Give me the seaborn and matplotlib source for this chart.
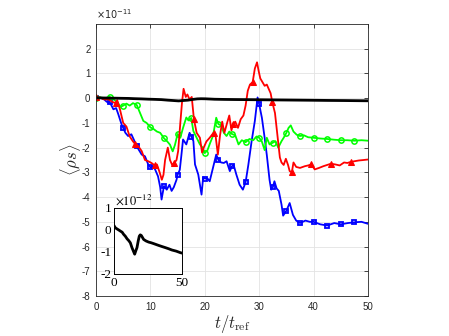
import numpy as np
import matplotlib
matplotlib.use("Agg")
import matplotlib.pyplot as plt
import seaborn as sns

# values (main axis in units of 1e-11, inset in 1e-12)
red_t = [0, 0.8, 1.5, 2.3, 3.0, 3.6, 3.9, 4.4, 5.0, 5.6, 6.2, 6.8, 7.2, 7.8, 8.4, 9.0, 9.6, 10.2,
         10.8, 11.2, 11.7, 12.1, 12.4, 12.7, 13.2, 13.6, 14.0, 14.4, 14.8, 15.1, 15.5, 15.8, 16.1,
         16.5, 16.8, 17.2, 17.6, 18.0, 18.5, 19.1, 19.5, 19.8, 20.3, 20.9, 21.6, 22.0, 22.4, 22.8,
         23.2, 23.6, 24.1, 24.5, 24.9, 25.2, 25.6, 26.1, 26.6, 27.1, 27.5, 27.9, 28.3, 28.8, 29.2,
         29.6, 29.9, 30.2, 30.6, 31.0, 31.4, 31.8, 32.1, 32.4, 32.9, 33.3, 33.8, 34.1, 34.5, 34.9,
         35.3, 35.6, 36.0, 36.3, 36.8, 37.5, 38.4, 39.0, 39.6, 40.2, 41.0, 41.8, 42.5, 43.2, 44.0,
         44.8, 45.6, 46.2, 46.8, 47.5, 48.3, 49.2, 50.0]
red_v = [0.05, 0.02, -0.05, -0.05, -0.15, -0.2, -0.08, -0.45, -1.0, -1.15, -1.55, -1.75, -1.85,
         -1.95, -2.14, -2.5, -2.55, -2.62, -2.72, -2.68, -3.0, -3.3, -3.1, -2.5, -2.0, -2.5, -2.7,
         -2.62, -2.5, -2.14, -1.0, -0.2, 0.38, 0.05, 0.15, -0.05, 0.05, -0.85, -1.4, -1.6, -2.2,
         -2.0, -1.75, -1.6, -1.4, -1.55, -2.28, -1.5, -0.95, -1.4, -1.0, -0.7, -1.3, -1.05, -0.95,
         -1.2, -0.85, -0.7, -0.3, 0.3, 0.55, 0.65, 1.2, 1.45, 1.1, 0.8, 0.65, 0.5, 0.55, 0.35, 0.2,
         -0.15, -0.6, -1.4, -2.4, -2.6, -2.7, -2.45, -2.7, -2.95, -3.0, -2.6, -2.78, -2.82, -2.75,
         -2.72, -2.68, -2.88, -2.82, -2.75, -2.7, -2.65, -2.68, -2.72, -2.6, -2.62, -2.58, -2.55,
         -2.52, -2.5, -2.48]
red_marks = [0, 3.6, 7.2, 10.8, 14.4, 18.0, 21.6, 25.2, 28.8, 32.4, 36.0, 39.6, 43.2, 46.8]

green_t = [0, 0.8, 1.6, 2.5, 3.2, 3.9, 4.5, 5.0, 5.6, 6.2, 6.8, 7.5, 8.1, 8.7, 9.3, 10.0, 10.6,
           11.2, 11.8, 12.5, 13.1, 13.6, 14.1, 14.5, 15.0, 15.5, 16.0, 16.6, 17.0, 17.5, 17.9,
           18.5, 19.1, 19.6, 20.0, 20.5, 21.0, 21.5, 22.1, 22.5, 23.0, 23.5, 24.0, 24.5, 25.0,
           25.6, 26.2, 26.8, 27.5, 28.2, 28.9, 29.5, 30.0, 30.5, 31.0, 31.4, 31.9, 32.5, 33.0,
           33.5, 34.1, 34.5, 35.0, 35.4, 35.8, 36.3, 36.9, 37.5, 38.2, 39.0, 40.0, 41.2, 42.5,
           43.8, 45.0, 46.2, 47.5, 48.8, 50.0]
green_v = [0.0, 0.03, 0.0, 0.05, -0.05, -0.15, -0.35, -0.3, -0.22, -0.3, -0.2, -0.28, -0.6, -0.92,
           -1.0, -1.18, -1.25, -1.35, -1.4, -1.62, -1.75, -1.88, -2.15, -1.9, -1.45, -1.6, -1.2,
           -0.78, -0.9, -0.8, -1.33, -1.6, -1.87, -2.0, -2.22, -2.1, -1.8, -1.53, -0.79, -1.05,
           -1.1, -1.4, -1.53, -1.35, -1.45, -1.5, -1.87, -1.7, -1.78, -1.65, -1.7, -1.55, -1.6,
           -1.76, -2.1, -1.6, -1.87, -1.8, -1.74, -2.0, -1.74, -1.6, -1.4, -1.2, -1.1, -1.35,
           -1.48, -1.53, -1.5, -1.58, -1.6, -1.63, -1.65, -1.68, -1.7, -1.7, -1.72, -1.7, -1.72]
green_marks = [0, 2.5, 5.0, 7.5, 10.0, 12.5, 15.0, 17.5, 20.0, 22.5, 25.0, 27.5, 30.0, 32.5,
               35.0, 37.5, 40.0, 42.5, 45.0, 47.5]

blue_t = [0, 0.8, 1.5, 2.0, 2.5, 3.2, 3.7, 4.1, 4.7, 5.0, 5.4, 5.9, 6.5, 7.0, 7.5, 7.9, 8.4, 9.0,
          9.6, 10.0, 10.5, 10.9, 11.4, 11.8, 12.05, 12.5, 13.0, 13.5, 13.9, 14.3, 14.8, 15.0,
          15.4, 15.7, 16.0, 16.6, 17.2, 17.5, 17.9, 18.2, 18.8, 19.4, 19.7, 20.0, 20.5, 20.9,
          21.5, 22.1, 22.5, 23.0, 23.5, 24.0, 24.6, 25.0, 25.3, 25.8, 26.4, 27.0, 27.5, 28.0,
          28.6, 29.2, 29.7, 30.0, 30.5, 31.0, 31.4, 31.9, 32.2, 32.5, 32.8, 33.2, 33.6, 34.1,
          34.4, 35.0, 35.6, 36.2, 36.8, 37.5, 38.5, 39.3, 40.0, 41.2, 42.5, 43.8, 45.0, 46.3,
          47.5, 48.8, 50.0]
blue_v = [0.0, 0.02, -0.05, -0.15, -0.15, -0.45, -0.4, -0.65, -1.06, -1.2, -1.4, -1.53, -1.46,
          -1.7, -1.95, -2.1, -2.28, -2.35, -2.68, -2.8, -2.75, -2.9, -3.16, -3.6, -4.1, -3.55,
          -3.7, -3.5, -3.75, -3.6, -3.3, -3.1, -2.9, -2.3, -1.67, -1.87, -1.4, -1.55, -1.73,
          -2.68, -3.09, -3.9, -3.2, -3.25, -3.25, -3.36, -2.82, -2.28, -2.5, -2.6, -2.62, -2.55,
          -2.95, -2.75, -2.7, -3.09, -3.5, -3.7, -3.4, -2.7, -1.75, -0.92, 0.03, -0.25, -0.8,
          -1.6, -2.3, -3.3, -3.7, -3.6, -3.36, -3.65, -3.75, -4.3, -4.75, -4.55, -4.24, -4.72,
          -4.95, -5.05, -4.95, -5.0, -5.0, -5.1, -5.15, -5.05, -5.1, -5.05, -5.02, -5.0, -5.08]
blue_marks = [0, 2.5, 5.0, 7.5, 10.0, 12.5, 15.0, 17.5, 20.0, 22.5, 25.0, 27.5, 30.0, 32.5,
              35.0, 37.5, 40.0, 42.5, 45.0, 47.5]

black_t = [0, 1.0, 2.2, 3.5, 4.7, 6.0, 7.1, 8.3, 9.6, 10.8, 12.0, 13.2, 14.2, 15.2, 16.0, 16.9,
           17.8, 18.6, 19.3, 20.1, 21.8, 23.6, 25.5, 27.3, 29.2, 31.0, 32.8, 35.2, 37.7, 40.1,
           42.6, 45.7, 48.8, 50.0]
black_v = [0.2, 0.1, 0.05, 0.0, -0.05, -0.1, -0.2, -0.28, -0.4, -0.48, -0.58, -0.8, -0.95, -1.1,
           -0.95, -0.8, -0.5, -0.28, -0.22, -0.25, -0.43, -0.5, -0.55, -0.58, -0.62, -0.66,
           -0.7, -0.75, -0.8, -0.85, -0.91, -0.96, -1.03, -1.05]

sns.set_theme(style="whitegrid", rc={"grid.color": "#e3e3e3", "grid.linewidth": 0.6,
                                     "axes.edgecolor": "#262626", "axes.linewidth": 0.6})
plt.rcParams["font.family"] = ["Liberation Sans", "DejaVu Sans"]
plt.rcParams["axes.unicode_minus"] = False
plt.rcParams["mathtext.fontset"] = "cm"

fig = plt.figure(figsize=(4.49, 3.36), dpi=100)
ax = fig.add_axes([96 / 449, 1 - 296 / 336, 272 / 449, 272 / 336])


def marker_idx(ts, marks):
    return [i for i, t in enumerate(ts) if t in marks]


sns.lineplot(x=blue_t, y=blue_v, ax=ax, color="#0000ff", lw=1.3, estimator=None, sort=False,
             marker="s", ms=3.3, mec="#0000ff", mfc="none", mew=1.3,
             markevery=marker_idx(blue_t, blue_marks))
sns.lineplot(x=green_t, y=green_v, ax=ax, color="#00ff00", lw=1.3, estimator=None, sort=False,
             marker="o", ms=3.8, mec="#00ff00", mfc="none", mew=1.1,
             markevery=marker_idx(green_t, green_marks))
sns.lineplot(x=red_t, y=red_v, ax=ax, color="#ff0000", lw=1.3, estimator=None, sort=False,
             marker="^", ms=4.2, mec="#ff0000", mfc="#ff0000",
             markevery=marker_idx(red_t, red_marks))
sns.lineplot(x=black_t, y=np.array(black_v) * 0.1, ax=ax, color="black", lw=2.0,
             estimator=None, sort=False)

ax.set_xlim(0, 50)
ax.set_ylim(-8, 3)
ax.set_xticks([0, 10, 20, 30, 40, 50])
ax.set_yticks(range(-8, 3))
ax.tick_params(direction="in", length=3, width=0.6, labelsize=7, colors="#262626",
               top=True, right=True, pad=4)
for s in ax.spines.values():
    s.set_visible(True)
    s.set_color("#262626")
ax.set_xlabel(r"$t/t_{\mathrm{ref}}$", fontsize=12, labelpad=1)
ax.set_ylabel(r"$\langle \rho s \rangle$", fontsize=12, labelpad=-1)
ax.text(0.0, 1.012, r"$\times10^{-11}$", transform=ax.transAxes, ha="left", va="bottom",
        fontsize=7, color="#262626", math_fontfamily="dejavusans")

# inset
ins = fig.add_axes([114 / 449, 1 - 274 / 336, 68 / 449, 66 / 336])
ins.set_facecolor("white")
sns.lineplot(x=black_t, y=black_v, ax=ins, color="black", lw=2.0, estimator=None, sort=False)
ins.grid(False)
ins.set_xlim(0, 50)
ins.set_ylim(-2, 1)
ins.set_xticks([0, 50])
ins.set_yticks([1, 0, -1, -2])
ins.set_xlabel("")
ins.set_ylabel("")
ins.tick_params(direction="in", length=2, width=0.6, labelsize=9.5, colors="black", pad=2)
for lab in ins.get_xticklabels() + ins.get_yticklabels():
    lab.set_family(["Liberation Serif", "DejaVu Serif"])
for s in ins.spines.values():
    s.set_visible(True)
    s.set_color("black")
    s.set_linewidth(0.7)
ins.text(0.02, 1.0, r"$\times10^{-12}$", transform=ins.transAxes, ha="left", va="bottom",
         fontsize=9, color="black", math_fontfamily="stix")

fig.savefig("out.png", dpi=100)
